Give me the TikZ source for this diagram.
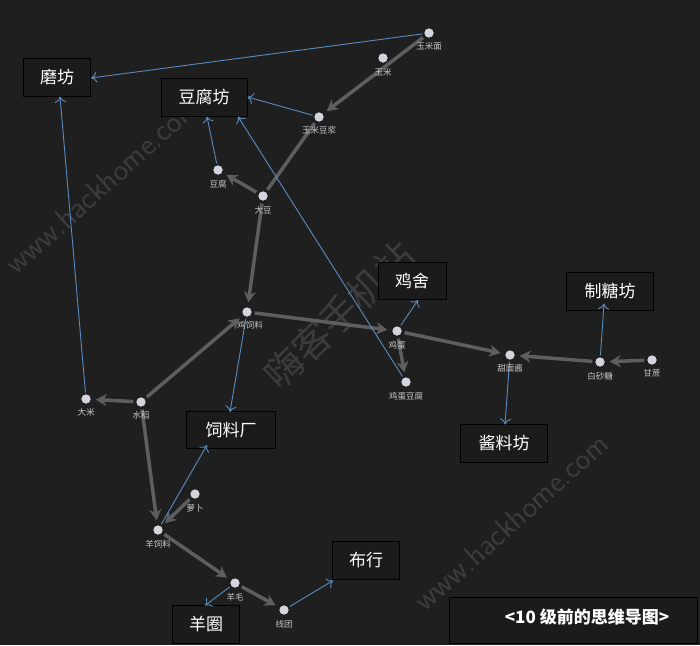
\documentclass[tikz,border=0pt]{standalone}
\usepackage{fontspec}
\newfontfamily\cjk{Noto Sans CJK SC}
\usetikzlibrary{arrows.meta}
\definecolor{bg}{HTML}{1F1F1F}
\definecolor{boxbg}{HTML}{1B1B1B}
\definecolor{flow}{HTML}{5E5E5E}
\definecolor{prod}{HTML}{5A8CC0}
\definecolor{dotc}{HTML}{D4D4DE}
\definecolor{lbl}{HTML}{C8C8C8}
\definecolor{wm}{HTML}{3C3C3C}
\tikzset{
  item/.style={circle,fill=dotc,inner sep=0pt,minimum size=9pt},
  itemlbl/.style={font=\cjk\fontsize{8.5}{9}\selectfont,text=lbl,inner sep=0pt},
  house/.style={draw=black,line width=1pt,fill=boxbg,text=white,font=\cjk\fontsize{17}{19}\selectfont,minimum height=38pt,inner sep=0pt},
  flowarr/.style={draw=flow,line width=3.5pt,-{Stealth[length=11pt,width=12pt]},shorten >=5pt,shorten <=3pt},
  flowline/.style={draw=flow,line width=3.5pt,shorten >=3pt,shorten <=3pt},
  prodarr/.style={draw=prod,line width=0.9pt,-{To[length=6pt,width=11pt]},shorten <=2pt},
  wmark/.style={text=wm,inner sep=0pt}
}
\begin{document}
\begin{tikzpicture}[x=1pt,y=-1pt]
\fill[bg] (0,0) rectangle (700,645);
\useasboundingbox (0,0) rectangle (700,645);

% watermarks
\node[wmark,rotate=42,font=\fontsize{31}{33}\selectfont\sffamily] (wm1) at (102,185) {www.hackhome.com};
\node[wmark,rotate=42,font=\fontsize{31}{33}\selectfont\sffamily] (wm2) at (511,522) {www.hackhome.com};
\node[wmark,rotate=44,font=\cjk\fontsize{38}{40}\selectfont] (wm3) at (339,315) {嗨客手机站};

% buildings
\node[house,minimum width=67pt] (mofang) at (57,77) {磨坊};
\node[house,minimum width=86pt] (doufufang) at (204,97) {豆腐坊};
\node[house,minimum width=68pt,minimum height=37pt] (jishe) at (412,281) {鸡舍};
\node[house,minimum width=87pt] (zhitang) at (610,291) {制糖坊};
\node[house,minimum width=87pt] (jiangliao) at (504,443) {酱料坊};
\node[house,minimum width=89pt,minimum height=37pt] (siliao) at (231,430) {饲料厂};
\node[house,minimum width=67pt] (buhang) at (366,560) {布行};
\node[house,minimum width=67pt] (yangjuan) at (206,624) {羊圈};
\node[draw=black,line width=1pt,fill=boxbg,minimum width=248pt,minimum height=46pt,inner sep=0pt] (titlebox) at (573,620) {};
\node[text=white,font=\cjk\bfseries\fontsize{17}{19}\selectfont,inner sep=0pt] (title) at (587,617) {<10 级前的思维导图>};

% items
\node[item] (ymm) at (429,33) {};
\node[item] (ym) at (383,58) {};
\node[item] (ymdj) at (319,117) {};
\node[item] (df) at (218,170) {};
\node[item] (dd) at (263,196) {};
\node[item] (jsl) at (247,312) {};
\node[item] (jd) at (397,331) {};
\node[item] (jddf) at (406,382) {};
\node[item] (tmj) at (510,355) {};
\node[item] (bst) at (600,362) {};
\node[item] (gz) at (652,360) {};
\node[item] (dm) at (86,399) {};
\node[item] (sd) at (141,402) {};
\node[item] (lb) at (195,494) {};
\node[item] (ysl) at (158,530) {};
\node[item] (ymao) at (235,583) {};
\node[item] (xt) at (284,610) {};

% flows (gray)
\draw[flowarr] (ymm) -- (ymdj);
\draw[flowline] (dd) -- (ymdj);
\draw[flowarr] (dd) -- (df);
\draw[flowarr] (dd) -- (jsl);
\draw[flowarr] (sd) -- (jsl);
\draw[flowarr] (jsl) -- (jd);
\draw[flowarr] (jd) -- (tmj);
\draw[flowarr] (jd) -- (jddf);
\draw[flowarr] (bst) -- (tmj);
\draw[flowarr] (gz) -- (bst);
\draw[flowarr] (sd) -- (dm);
\draw[flowarr] (sd) -- (ysl);
\draw[flowarr] (lb) -- (ysl);
\draw[flowarr] (ysl) -- (ymao);
\draw[flowarr] (ymao) -- (xt);

% redraw item dots on top of the flows
\foreach \n in {ymm,ym,ymdj,df,dd,jsl,jd,jddf,tmj,bst,gz,dm,sd,lb,ysl,ymao,xt}
  \fill[dotc] (\n.center) circle (4.5pt);

% products (blue)
\draw[prodarr] (ymm) -- ([yshift=-1pt]mofang.east);
\draw[prodarr] (dm) -- ([xshift=3pt]mofang.south);
\draw[prodarr] (ymdj) -- (doufufang.east);
\draw[prodarr] (df) -- ([xshift=3pt]doufufang.south);
\draw[prodarr] (jddf) -- ([xshift=34pt]doufufang.south);
\draw[prodarr] (jsl) -- ([xshift=-1pt,yshift=-1pt]siliao.north);
\draw[prodarr] (jd) -- ([xshift=6pt]jishe.south);
\draw[prodarr] (bst) -- ([xshift=-6pt,yshift=7pt]zhitang.south);
\draw[prodarr] (tmj) -- ([xshift=1pt,yshift=-1pt]jiangliao.north);
\draw[prodarr] (ysl) -- ([xshift=-24pt,yshift=4pt]siliao.south);
\draw[prodarr] (ymao) -- ([xshift=-1pt,yshift=-1pt]yangjuan.north);
\draw[prodarr] (xt) -- ([xshift=1pt,yshift=-1pt]buhang.south west);

% labels
\node[itemlbl] (l-ymm) at (429,46) {玉米面};
\node[itemlbl] (l-ym) at (383,72) {玉米};
\node[itemlbl] (l-ymdj) at (319,130) {玉米豆浆};
\node[itemlbl] (l-df) at (218,184) {豆腐};
\node[itemlbl] (l-dd) at (263,210) {大豆};
\node[itemlbl] (l-jsl) at (250,325) {鸡饲料};
\node[itemlbl] (l-jd) at (397,345) {鸡蛋};
\node[itemlbl] (l-jddf) at (406,396) {鸡蛋豆腐};
\node[itemlbl] (l-tmj) at (510,368) {甜面酱};
\node[itemlbl] (l-bst) at (600,376) {白砂糖};
\node[itemlbl] (l-gz) at (652,373) {甘蔗};
\node[itemlbl] (l-dm) at (86,412) {大米};
\node[itemlbl] (l-sd) at (141,415) {水稻};
\node[itemlbl] (l-lb) at (195,508) {萝卜};
\node[itemlbl] (l-ysl) at (158,544) {羊饲料};
\node[itemlbl] (l-ymao) at (235,597) {羊毛};
\node[itemlbl] (l-xt) at (284,624) {线团};
\end{tikzpicture}
\end{document}
